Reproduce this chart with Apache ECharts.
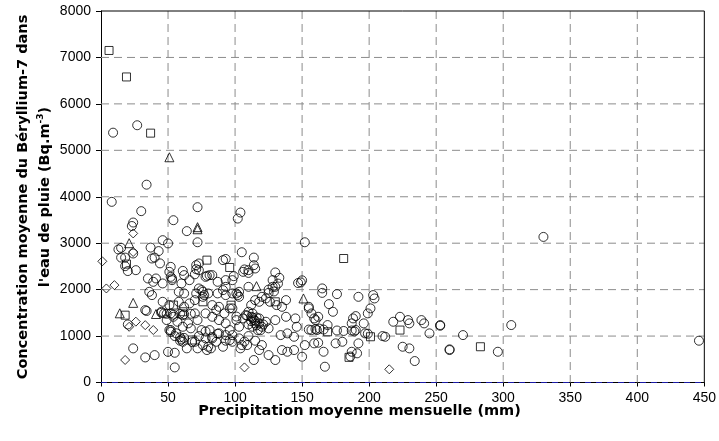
<!DOCTYPE html>
<html>
<head>
<meta charset="utf-8">
<script src="https://cdn.jsdelivr.net/npm/echarts@6/dist/echarts.min.js"></script>
<style>
  html, body { margin: 0; padding: 0; background: #fff; }
  #chart { width: 719px; height: 441px; }
</style>
</head>
<body>
<div id="chart"></div>
<script>
// Monthly mean rainfall (mm) vs mean Be-7 concentration in rain water (Bq.m-3)
const xTicks = [0, 50, 100, 150, 200, 250, 300, 350, 400, 450];
const yTicks = [0, 1000, 2000, 3000, 4000, 5000, 6000, 7000, 8000];

const circles = [
  [9,5380],[27,5540],[34,4260],[8,3890],[30,3690],[72,3775],[104,3660],[102,3530],[54,3495],
  [24,3445],[23,3370],[64,3260],[72,3020],[46,3065],[50,2995],[152,3020],[330,3135],
  [15,2900],[13,2865],[37,2905],[43,2830],[105,2805],[15,2690],[18,2690],[38,2670],[40,2690],
  [114,2690],[91,2635],[93,2660],[44,2565],[73,2563],[18,2505],[20,2400],[52,2490],[51,2383],
  [61,2404],[62,2312],[71,2440],[70,2330],[78,2275],[52,2275],[53,2240],[26,2419],[24,2778],
  [71,2527],[73,2419],[81,2312],[106,2383],[114,2527],[110,2419],[107,2435],[110,2360],
  [115,2455],[99,2290],[93,2205],[79,2297],[83,2312],[130,2370],[133,2255],[128,2205],[149,2155],
  [150,2200],[147,2142],[165,2026],[165,1930],[176,1903],[192,1845],[203,1882],[204,1810],
  [35,2240],[39,2168],[41,2240],[46,2133],[53,2204],[60,2133],[66,2204],[73,2025],[77,1882],
  [87,2168],[93,2060],[101,1918],[103,1953],[98,2204],[110,2060],[128,2060],[130,2060],[132,2130],
  [129,1960],[125,2000],[125,1930],
  [36,1953],[38,1882],[46,1738],[51,1667],[33,1559],[45,1500],[49,1480],[54,1460],[59,1480],
  [61,1450],[62,1470],[67,1480],[75,1989],[76,1953],[83,1667],[86,1559],[88,1630],[92,1488],
  [96,1595],[101,1420],[106,1380],[109,1440],[113,1400],[115,1330],[110,1250],[113,1200],[116,1230],
  [34,1540],[20,1250],[24,735],[33,540],[40,590],[50,660],[55,640],[55,325],[52,1090],[56,1060],[64,735],
  [58,1953],[62,1918],[58,1738],[62,1630],[66,1703],[70,1774],[71,1918],[76,1845],[80,1918],
  [47,1488],[52,1488],[45,1523],[59,972],[61,877],[60,929],[52,1129],[70,1488],[72,1344],
  [75,1129],[65,1273],[67,1166],[78,950],[80,770],[72,735],[70,877],
  [49,1344],[54,1415],[57,1308],[61,1200],[51,1129],[55,1000],[59,900],[62,960],[68,870],
  [73,1000],[78,1100],[83,980],[87,1050],[93,900],[98,1020],[103,950],[107,880],[110,1000],[115,900],
  [87,1918],[91,1989],[93,1882],[98,1918],[102,1882],[103,1845],[98,1596],[78,1488],[83,1415],
  [88,1344],[93,1273],[101,1344],[103,1200],[96,1129],[88,1058],[81,1129],[83,950],
  [112,1415],[114,1344],[115,1273],[118,1273],[113,1488],[110,1523],[108,1452],[120,1200],
  [123,1308],[125,1166],[117,1129],[119,1129],[116,1400],[118,1380],[112,1320],[121,1250],
  [112,1667],[115,1774],[118,1738],[120,1845],[123,1810],[126,1738],[131,1667],[135,1630],[138,1774],
  [130,1344],[138,1415],[139,1058],[134,1021],[145,1380],[146,1200],[144,985],[155,1596],
  [159,1380],[157,1129],[161,1129],
  [76,806],[79,699],[82,735],[86,877],[91,770],[93,1021],[96,914],[98,877],[105,806],[104,735],
  [109,806],[114,484],[118,699],[120,806],[125,591],[130,484],[135,699],[139,662],[144,699],
  [150,555],[152,806],[159,843],
  [170,1688],[173,1523],[201,1596],[199,1488],[155,1630],[157,1488],[162,1415],[160,1344],
  [169,1237],[155,1140],[160,1150],[163,1160],[166,1140],[176,1120],[181,1110],[187,1120],
  [189,1100],[190,1130],[187,1273],[188,1380],[190,1430],[196,1273],[197,1058],[199,1050],
  [212,985],[210,1000],
  [223,1415],[229,1344],[230,1273],[218,1308],[239,1344],[241,1273],[245,1058],[253,1237],
  [225,770],[230,735],[234,462],[260,714],[162,856],[166,662],[175,843],[180,877],[187,662],
  [192,843],[191,628],[167,340],[186,560],
  [253,1222],[270,1021],[260,699],[296,662],[306,1237],[446,900]
];

const squares = [
  [6,7150],[19,6580],[37,5370],[19,2550],[18,1450],[79,2635],[96,2477],[54,1667],[61,1523],
  [68,915],[76,1738],[97,1665],[130,1738],[181,2670],[169,1092],[223,1129],[185,542],[201,985],[283,770]
];

const triangles = [
  [51,4850],[72,3300],[72,3345],[21,3000],[24,1715],[14,1490],[41,1475],[116,2075],[151,1810]
];

const diamonds = [
  [1,2610],[4,2025],[10,2097],[24,3210],[24,2810],[21,1200],[26,1310],[33,1235],[39,1130],
  [18,485],[107,325],[215,284]
];

const TITLE_FONT = '"DejaVu Sans", "Liberation Sans", sans-serif';
const TICK_FONT = '"Liberation Sans", Arial, sans-serif';
const markerStyle = { color: 'rgba(0,0,0,0)', borderColor: '#000', borderWidth: 1 };

const X0 = xTicks[0], X1 = xTicks[xTicks.length - 1];
const Y0 = yTicks[0], Y1 = yTicks[yTicks.length - 1];

function scatter(name, data, symbol, size) {
  return {
    name: name, type: 'scatter', data: data, symbol: symbol, symbolSize: size,
    itemStyle: markerStyle, silent: true, animation: false, z: 4
  };
}

// a straight reference segment drawn through the axes' own scales
function rule(points, color, dash, z) {
  return {
    type: 'line', data: points, symbol: 'none', showSymbol: false, silent: true,
    animation: false, clip: false, z: z,
    lineStyle: { color: color, width: 1, type: dash }
  };
}

const GRID_GRAY = '#8c8c8c';
const series = [];
// dashed gray grid at every tick
xTicks.slice(1, -1).forEach(v => series.push(rule([[v, Y1], [v, Y0]], GRID_GRAY, [8, 5], 1)));
yTicks.slice(1, -1).forEach(v => series.push(rule([[X0, v], [X1, v]], GRID_GRAY, [8, 5], 1)));
// plot frame (top and right) and the blue dashed zero line over the x-axis
series.push(rule([[X0, Y1], [X1, Y1]], '#000', 'solid', 2));
series.push(rule([[X1, Y0], [X1, Y1]], '#000', 'solid', 2));
series.push(rule([[X0, Y0], [X1, Y0]], '#1a1aa6', [6, 5], 3));
// the four groups of measurements
series.push(scatter('circle', circles, 'circle', 9));
series.push(scatter('square', squares, 'rect', 8));
series.push(scatter('triangle', triangles, 'triangle', 9));
series.push(scatter('diamond', diamonds, 'diamond', 9));

const titleFont = 'bold 14.5px ' + TITLE_FONT;
const chart = echarts.init(document.getElementById('chart'), null, { renderer: 'canvas' });

chart.setOption({
  animation: false,
  backgroundColor: '#fff',
  grid: { left: 101, right: 11, top: 11, bottom: 58.5 },
  xAxis: {
    type: 'value', min: X0, max: X1, interval: 50,
    axisLine: { show: true, lineStyle: { color: '#000', width: 1 } },
    axisTick: { show: true, length: 4, lineStyle: { color: '#000' } },
    axisLabel: { color: '#000', fontFamily: TICK_FONT, fontSize: 14, margin: 9 },
    splitLine: { show: false }
  },
  yAxis: {
    type: 'value', min: Y0, max: Y1, interval: 1000,
    axisLine: { show: true, lineStyle: { color: '#000', width: 1 } },
    axisTick: { show: true, length: 5, lineStyle: { color: '#000' } },
    axisLabel: { color: '#000', fontFamily: TICK_FONT, fontSize: 14, margin: 10,
                 formatter: function (v) { return '' + v; } },
    splitLine: { show: false }
  },
  graphic: [
    {
      type: 'text', left: 'center', top: 404, silent: true,
      style: { text: 'Precipitation moyenne mensuelle (mm)', fill: '#000', font: titleFont }
    },
    {
      type: 'text', x: 23, y: 197, rotation: Math.PI / 2, silent: true,
      style: { text: 'Concentration moyenne du Béryllium-7 dans', fill: '#000', font: titleFont,
               align: 'center', verticalAlign: 'middle' }
    },
    {
      type: 'text', x: 45, y: 197, rotation: Math.PI / 2, silent: true,
      style: {
        text: '{t|l\'eau de pluie (Bq.m}{s|-3}{t|)}', fill: '#000', font: titleFont,
        align: 'center', verticalAlign: 'middle',
        rich: {
          t: { font: titleFont, fill: '#000' },
          s: { font: 'bold 9px ' + TITLE_FONT, fill: '#000', padding: [0, 0, 9, 0] }
        }
      }
    }
  ],
  series: series
});
</script>
</body>
</html>
